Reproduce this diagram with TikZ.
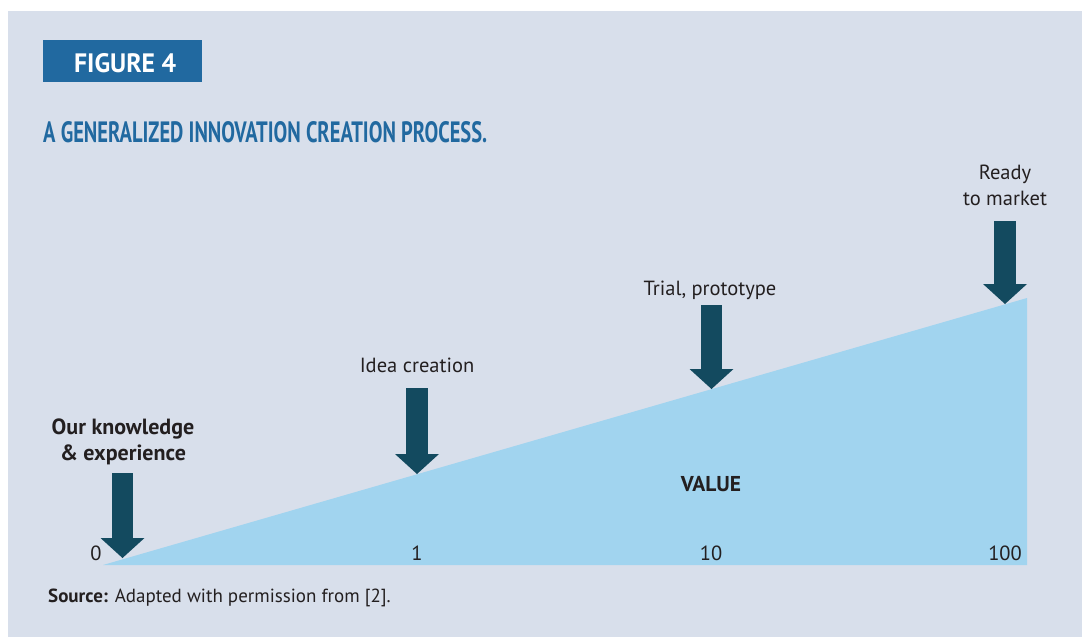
\documentclass[tikz,border=0pt]{standalone}
\usepackage{graphicx}
\usepackage{fontspec}
\setmainfont{PT Sans}
\usetikzlibrary{arrows.meta}

\definecolor{panelbg}{HTML}{D8DFEB}
\definecolor{valueblue}{HTML}{A1D4EF}
\definecolor{arrowteal}{HTML}{134A5F}
\definecolor{titleblue}{HTML}{2169A0}
\definecolor{inktext}{HTML}{231F20}

\begin{document}
\begin{tikzpicture}[x=1pt,y=-1pt]
\tikzstyle{every node}+=[inner sep=0pt, text=inktext, font=\fontsize{20.5}{25.5}\selectfont]
\tikzstyle{stagearrow}=[draw=arrowteal, line width=21.5pt, -{Triangle[length=20pt,width=44pt,line width=0pt]}]
\tikzstyle{stagelabel}=[anchor=base, align=center]
\tikzstyle{boldlabel}=[font=\fontsize{22}{26}\selectfont\bfseries]
\useasboundingbox (0,0) rectangle (1082,637);
\fill [panelbg] (8,11) rectangle (1082,637);
% heading
\fill [titleblue] (43,40) rectangle (202,82);
\node [anchor=base west, text=white] (figno) at (74,72) {\resizebox{102pt}{19pt}{\bfseries FIGURE 4}};
\node [anchor=base west, text=titleblue] (title) at (43,142) {\resizebox{444pt}{21pt}{\bfseries A GENERALIZED INNOVATION CREATION PROCESS.}};
% value wedge
\coordinate (origin) at (103,565);
\coordinate (peak) at (1027,298);
\coordinate (corner) at (1027,565);
\fill [valueblue] (origin) -- (peak) -- (corner) -- cycle;
\node [anchor=base, font=\fontsize{21.5}{24}\selectfont\bfseries] (value) at (711,491) {VALUE};
% stages
\node [stagelabel, boldlabel] (know) at (123,460) {Our knowledge\\\& experience};
\node [stagelabel] (idea) at (417,372) {Idea creation};
\node [stagelabel] (trial) at (710,295) {Trial, prototype};
\node [stagelabel] (ready) at (1005,205) {Ready\\to market};
\coordinate (knowtop) at (122.5,473);
\coordinate (knowtip) at (122.5,558);
\coordinate (ideatop) at (417,388);
\coordinate (ideatip) at (417,474);
\coordinate (trialtop) at (711.5,305);
\coordinate (trialtip) at (711.5,389);
\coordinate (readytop) at (1005,221);
\coordinate (readytip) at (1005,304);
\draw [stagearrow] (knowtop) -- (knowtip);
\draw [stagearrow] (ideatop) -- (ideatip);
\draw [stagearrow] (trialtop) -- (trialtip);
\draw [stagearrow] (readytop) -- (readytip);
% scale
\node [anchor=base] (t0) at (96,560) {0};
\node [anchor=base] (t1) at (417,560) {1};
\node [anchor=base] (t10) at (711,560) {10};
\node [anchor=base] (t100) at (1005,560) {100};
\node [anchor=base west, font=\fontsize{19}{22}\selectfont] (source) at (48,602) {\textbf{Source:} Adapted with permission from [2].};
\end{tikzpicture}
\end{document}
